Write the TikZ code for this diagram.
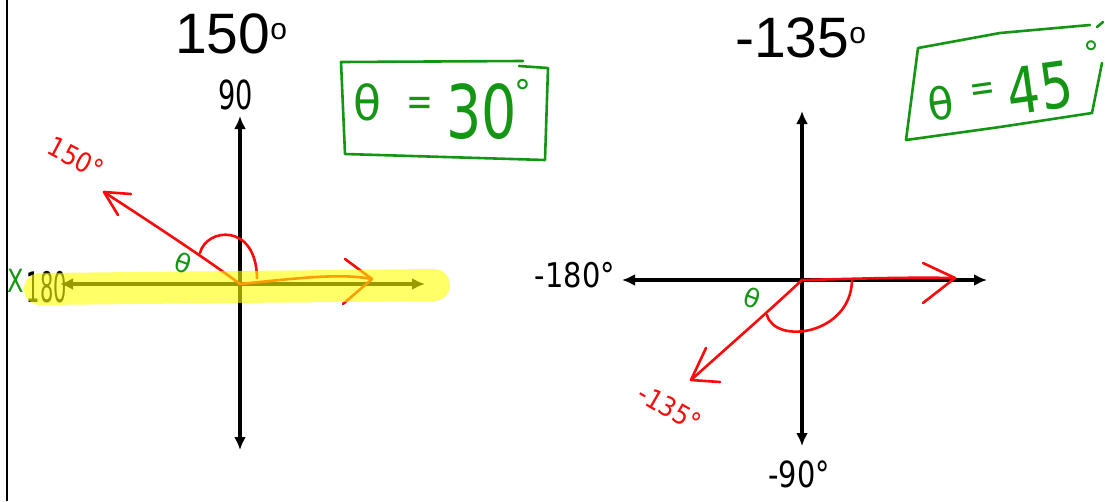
\documentclass[tikz,border=0pt]{standalone}
\usepackage{fontspec}
\usepackage{graphicx}
\setmainfont{Liberation Sans}
\newfontfamily\handfont{DejaVu Sans}
\usetikzlibrary{arrows.meta}
\definecolor{penred}{RGB}{250,10,10}
\definecolor{pengreen}{RGB}{20,150,20}
\definecolor{hiyellow}{RGB}{255,255,0}
\newcommand\hwtext[3]{\scalebox{#2}[1]{\fontsize{#1}{#1}\selectfont\handfont #3}}
\tikzset{
  axisline/.style={black, line width=3.4pt, {Latex[length=13pt,width=12pt]}-{Latex[length=13pt,width=12pt]}},
  redpen/.style={penred, line width=2.6pt, line cap=round, line join=round},
  greenpen/.style={pengreen, line width=2.6pt, line cap=round, line join=round},
  highlighter/.style={hiyellow, opacity=0.6, line width=32pt, line cap=round},
  titletext/.style={inner sep=0pt, anchor=base west, font=\fontsize{57}{60}\selectfont},
  hand/.style={inner sep=0pt},
}
\begin{document}
\begin{tikzpicture}[x=1pt,y=-1pt]
\useasboundingbox (0,0) rectangle (1105,501);
\fill[white] (0,0) rectangle (1105,501);

% frame line at left
\coordinate (frametop) at (7,0);
\coordinate (framebot) at (7,501);
\draw[black, line width=2.4pt] (frametop) -- (framebot);

% ===== left diagram =====
\node[titletext] (title1) at (175,53) {150\raisebox{14pt}{\fontsize{30}{30}\selectfont o}};
\coordinate (O1) at (240,284);
\coordinate (A1top) at (240,116);
\coordinate (A1bot) at (240,450);
\coordinate (A1left) at (60,284);
\coordinate (A1right) at (425,284);
\draw[axisline] (A1bot) -- (A1top);
\draw[axisline] (A1left) -- (A1right);
\node[hand] (lab90) at (236,95) {\hwtext{40}{0.68}{90}};
\node[hand] (lab180) at (47,287) {\hwtext{42}{0.5}{180}};

% red ray at 150
\coordinate (tip150) at (104,192);
\coordinate (h150a) at (131,194);
\coordinate (h150b) at (118,215);
\draw[redpen] (O1) .. controls (205,258) and (150,222) .. (tip150);
\draw[redpen] (h150a) -- (tip150) -- (h150b);
\coordinate (arc1s) at (200,253);
\coordinate (arc1e) at (257,278);
\draw[redpen] (arc1s) .. controls (206,228) and (256,222) .. (arc1e);
\coordinate (tip0a) at (372,279);
\draw[redpen] (O1) .. controls (300,278) and (340,273) .. (tip0a);
\coordinate (h0a) at (345,259);
\coordinate (h0b) at (343,304);
\draw[redpen] (h0a) -- (tip0a) -- (h0b);
\node[hand, text=penred, rotate=-28] (lab150) at (76,158) {\hwtext{27}{0.9}{150°}};

% highlighter band
\coordinate (hlA) at (40,289);
\coordinate (hlB) at (434,285);
\draw[highlighter] (hlA) -- (hlB);

\node[hand, text=pengreen] (labX) at (16,281) {\hwtext{32}{0.75}{X}};
\node[hand, text=pengreen, rotate=-20] (theta1) at (183,263) {\hwtext{26}{1}{θ}};

% green box left
\coordinate (b1a) at (341,62);
\coordinate (b1b) at (523,61);
\coordinate (b1c) at (519,66);
\coordinate (b1d) at (548,68);
\coordinate (b1e) at (545,160);
\coordinate (b1f) at (345,154);
\draw[greenpen] (b1b) -- (b1a) -- (b1f) -- (b1e) -- (b1d) -- (b1c);
\node[hand, text=pengreen] (bt1) at (367,102) {\hwtext{48}{0.95}{θ}};
\node[hand, text=pengreen] (be1) at (420,106) {\hwtext{40}{0.8}{=}};
\node[hand, text=pengreen] (bn1) at (482,112) {\hwtext{74}{0.75}{30}};
\node[hand, text=pengreen] (bd1) at (523,92) {\hwtext{34}{1}{°}};

% ===== right diagram =====
\node[titletext] (title2) at (735,57) {-135\raisebox{14pt}{\fontsize{30}{30}\selectfont o}};
\coordinate (O2) at (802,280);
\coordinate (A2top) at (802,111);
\coordinate (A2bot) at (802,446);
\coordinate (A2left) at (622,280);
\coordinate (A2right) at (987,280);
\draw[axisline] (A2bot) -- (A2top);
\draw[axisline] (A2left) -- (A2right);
\node[hand] (labm180) at (575,275) {\hwtext{34}{0.85}{-180°}};
\node[hand] (labm90) at (799,474) {\hwtext{36}{0.8}{-90°}};

\coordinate (tip135) at (691,380);
\coordinate (h135a) at (706,348);
\coordinate (h135b) at (720,382);
\draw[redpen] (O2) .. controls (770,310) and (730,345) .. (tip135);
\draw[redpen] (h135a) -- (tip135) -- (h135b);
\coordinate (tip0b) at (955,278);
\coordinate (h0c) at (923,263);
\coordinate (h0d) at (923,303);
\draw[redpen] (O2) .. controls (850,279) and (900,277) .. (tip0b);
\draw[redpen] (h0c) -- (tip0b) -- (h0d);
\coordinate (arc2s) at (767,315);
\coordinate (arc2e) at (852,281);
\draw[redpen] (arc2s) .. controls (775,345) and (850,335) .. (arc2e);
\node[hand, text=penred, rotate=-30] (labm135) at (670,408) {\hwtext{27}{0.9}{-135°}};
\node[hand, text=pengreen, rotate=-20] (theta2) at (752,298) {\hwtext{26}{1}{θ}};

% green box right
\coordinate (b2a) at (918,48);
\coordinate (b2b) at (1000,33);
\coordinate (b2c) at (1090,25);
\coordinate (b2d) at (1097,27);
\coordinate (b2e) at (1103,22);
\coordinate (b2f) at (1102,63);
\coordinate (b2g) at (1092,113);
\coordinate (b2h) at (1000,127);
\coordinate (b2i) at (906,140);
\draw[greenpen] (b2c) -- (b2b) -- (b2a) -- (b2i) -- (b2h) -- (b2g) -- (b2f);
\draw[greenpen] (b2d) -- (b2e);
\node[hand, text=pengreen, rotate=8] (bt2) at (941,103) {\hwtext{44}{0.95}{θ}};
\node[hand, text=pengreen, rotate=8] (be2) at (983,92) {\hwtext{38}{0.8}{=}};
\node[hand, text=pengreen, rotate=8] (bn2) at (1040,88) {\hwtext{64}{0.8}{45}};
\node[hand, text=pengreen] (bd2) at (1091,53) {\hwtext{32}{1}{°}};
\end{tikzpicture}
\end{document}
